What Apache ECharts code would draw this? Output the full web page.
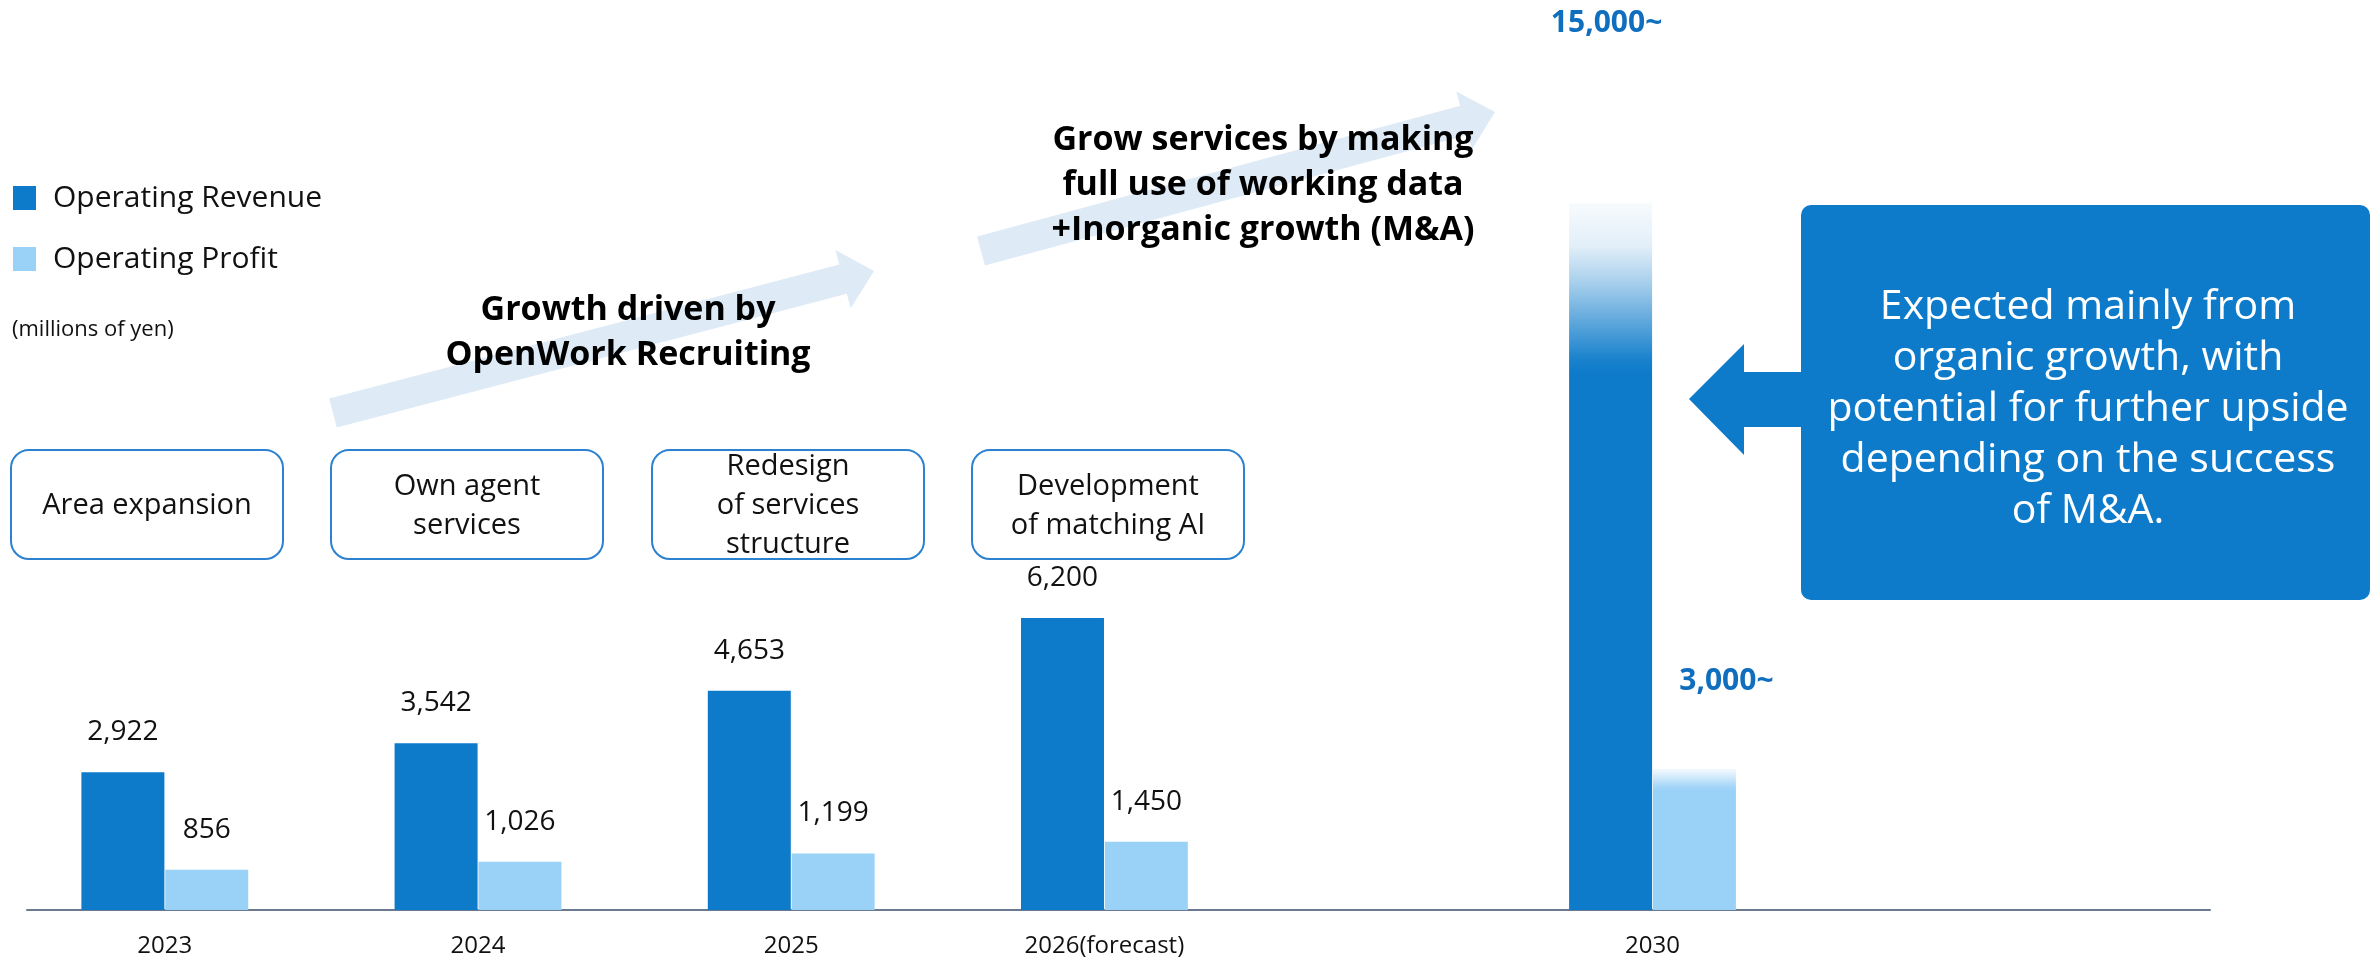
<!DOCTYPE html>
<html>
<head>
<meta charset="utf-8">
<script src="https://cdn.jsdelivr.net/npm/echarts@6/dist/echarts.min.js"></script>
<style>
  html, body { margin: 0; padding: 0; background: #ffffff; }
  #chart { width: 2374px; height: 960px; }
</style>
</head>
<body>
<div id="chart"></div>
<script>
// ---- data ----
const categories = ['2023', '2024', '2025', '2026(forecast)', '2030'];
const slotPositions = [0, 1, 2, 3, 4.75];          // 2030 sits further out on the time line
const revenue = [2922, 3542, 4653, 6200, 15000];   // Operating Revenue (millions of yen)
const profit = [856, 1026, 1199, 1450, 3000];      // Operating Profit (millions of yen)
const openEnded = [false, false, false, false, true]; // target values shown as "N~"

const milestones = ['Area expansion', 'Own agent\nservices', 'Redesign\nof services\nstructure', 'Development\nof matching AI'];

// ---- styling ----
const FONT = "'Open Sans', 'Noto Sans', sans-serif";
const REV_RGB = '13,123,202';
const PRO_RGB = '153,209,247';
const REV_COLOR = 'rgb(' + REV_RGB + ')';
const PRO_COLOR = 'rgb(' + PRO_RGB + ')';
const TARGET_LABEL = '#0F6EBE';
const ARROW_FILL = '#DEEAF6';

const fmt = v => v.toLocaleString('en-US');

function fade(rgb, stops) {
  return {
    type: 'linear', x: 0, y: 0, x2: 0, y2: 1,
    colorStops: stops.map(s => ({ offset: s[0], color: 'rgba(' + rgb + ',' + s[1] + ')' }))
  };
}

function barData(values, rgb, isProfit) {
  return values.map((v, i) => {
    const item = { value: [slotPositions[i], v] };
    if (openEnded[i]) {
      item.itemStyle = {
        color: isProfit
          ? fade(rgb, [[0, 0.1], [0.06, 0.45], [0.12, 0.85], [0.16, 1], [1, 1]])
          : fade(rgb, [[0, 0.03], [0.06, 0.12], [0.11, 0.35], [0.17, 0.68], [0.22, 0.94], [0.24, 1], [1, 1]])
      };
      item.label = {
        fontWeight: 'bold', fontSize: 30, color: TARGET_LABEL,
        distance: isProfit ? 72 : 165,
        offset: isProfit ? [32, 0] : [-4, 0]
      };
    }
    return item;
  });
}

const valueLabel = {
  show: true, position: 'top', distance: 26,
  fontSize: 28, color: '#111111', fontFamily: FONT,
  formatter: p => fmt(p.value[1]) + (openEnded[p.dataIndex] ? '~' : '')
};

// block arrow polygon from tail centre to tip
function arrowPoints(tail, tip, shaftHalf, headHalf, headLen) {
  const dx = tip[0] - tail[0], dy = tip[1] - tail[1];
  const len = Math.hypot(dx, dy);
  const ux = dx / len, uy = dy / len;
  const nx = -uy, ny = ux;
  const bx = tip[0] - ux * headLen, by = tip[1] - uy * headLen;
  return [
    [tail[0] + nx * shaftHalf, tail[1] + ny * shaftHalf],
    [bx + nx * shaftHalf, by + ny * shaftHalf],
    [bx + nx * headHalf, by + ny * headHalf],
    [tip[0], tip[1]],
    [bx - nx * headHalf, by - ny * headHalf],
    [bx - nx * shaftHalf, by - ny * shaftHalf],
    [tail[0] - nx * shaftHalf, tail[1] - ny * shaftHalf]
  ];
}

const boxLefts = [11, 331, 652, 972];
const milestoneGraphics = [];
milestones.forEach((t, i) => {
  milestoneGraphics.push({
    type: 'rect', shape: { x: boxLefts[i], y: 450, width: 272, height: 109, r: 18 },
    style: { fill: '#ffffff', stroke: '#2C82D0', lineWidth: 2 }
  });
  milestoneGraphics.push({
    type: 'text', x: boxLefts[i] + 136, y: 506,
    style: { text: t, fill: '#111111', fontSize: 29, fontFamily: FONT, lineHeight: 39, align: 'center', verticalAlign: 'middle' }
  });
});

const chart = echarts.init(document.getElementById('chart'), null, { renderer: 'canvas' });
chart.setOption({
  animation: false,
  backgroundColor: '#ffffff',
  textStyle: { fontFamily: FONT },
  legend: {
    orient: 'vertical', left: 13, top: 181, padding: 0,
    itemWidth: 23, itemHeight: 24, itemGap: 27, icon: 'rect',
    textStyle: { fontSize: 30, color: '#111111', lineHeight: 34, padding: [0, 0, 0, 12], fontFamily: FONT },
    data: ['Operating Revenue', 'Operating Profit']
  },
  grid: { left: 27, right: 164, top: 62, bottom: 50, containLabel: false, outerBoundsMode: 'none' },
  xAxis: {
    type: 'value', min: -0.44, max: 6.53,
    splitLine: { show: false },
    axisTick: { show: false },
    axisLine: { show: true, onZero: true, lineStyle: { color: '#6B7A8F', width: 2 } },
    axisLabel: {
      customValues: slotPositions,
      formatter: v => categories[slotPositions.indexOf(v)] || '',
      fontSize: 24, color: '#111111', margin: 24, fontFamily: FONT
    }
  },
  yAxis: {
    type: 'value', min: 0, max: 18000, show: false,
    splitLine: { show: false }
  },
  series: [
    {
      name: 'Operating Revenue', type: 'bar', barWidth: 83, barGap: '1%',
      itemStyle: { color: REV_COLOR },
      label: valueLabel,
      data: barData(revenue, REV_RGB, false)
    },
    {
      name: 'Operating Profit', type: 'bar', barWidth: 83, barGap: '1%',
      itemStyle: { color: PRO_COLOR },
      label: valueLabel,
      data: barData(profit, PRO_RGB, true)
    }
  ],
  graphic: [
    {
      type: 'text', x: 12, y: 330,
      style: { text: '(millions of yen)', fill: '#111111', fontSize: 22, fontFamily: FONT, verticalAlign: 'middle' }
    },
    // growth arrows
    { type: 'polygon', shape: { points: arrowPoints([333, 413], [874, 271], 15, 30, 32) }, style: { fill: ARROW_FILL } },
    { type: 'polygon', shape: { points: arrowPoints([981, 251], [1495, 112], 15, 30, 32) }, style: { fill: ARROW_FILL } },
    {
      type: 'text', x: 628, y: 333,
      style: { text: 'Growth driven by\nOpenWork Recruiting', fill: '#000000', fontSize: 34, fontWeight: 'bold', fontFamily: FONT, lineHeight: 45, align: 'center', verticalAlign: 'middle' }
    },
    {
      type: 'text', x: 1263, y: 185,
      style: { text: 'Grow services by making\nfull use of working data\n+Inorganic growth (M&A)', fill: '#000000', fontSize: 34, fontWeight: 'bold', fontFamily: FONT, lineHeight: 45, align: 'center', verticalAlign: 'middle' }
    },
    ...milestoneGraphics,
    // callout box with arrow pointing at 2030
    {
      type: 'rect', shape: { x: 1801, y: 205, width: 569, height: 395, r: 10 },
      style: { fill: REV_COLOR }
    },
    {
      type: 'polygon',
      shape: { points: [[1803, 372], [1744, 372], [1744, 344], [1689, 399], [1744, 455], [1744, 427], [1803, 427]] },
      style: { fill: REV_COLOR }
    },
    {
      type: 'text', x: 2088, y: 409,
      style: {
        text: 'Expected mainly from\norganic growth, with\npotential for further upside\ndepending on the success\nof M&A.',
        fill: '#ffffff', fontSize: 41, fontFamily: FONT, lineHeight: 51, align: 'center', verticalAlign: 'middle'
      }
    }
  ]
});
</script>
</body>
</html>
